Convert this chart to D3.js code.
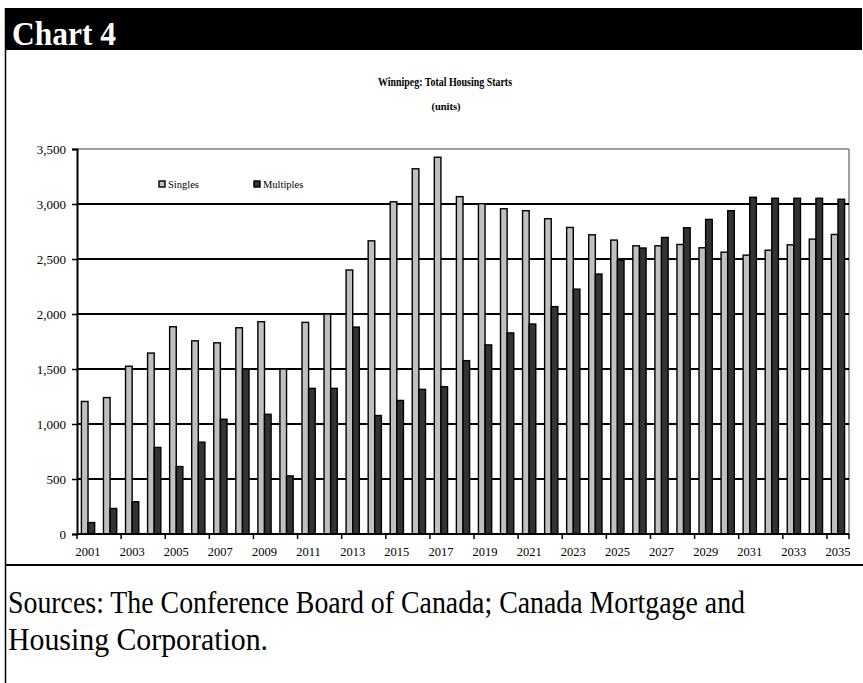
<!DOCTYPE html>
<html>
<head>
<meta charset="utf-8">
<script src="https://cdn.jsdelivr.net/npm/d3@7"></script>
<style>
  html, body { margin: 0; padding: 0; background: #fff; }
  svg { display: block; }
  text { font-family: "Liberation Serif", "Times New Roman", serif; }
</style>
</head>
<body>
<svg id="chart" width="863" height="683"></svg>
<script>
const years = d3.range(2001, 2036).map(String);
const singles = [1205, 1240, 1525, 1645, 1884, 1756, 1738, 1875, 1930, 1500,
                 1924, 2000, 2400, 2665, 3020, 3320, 3425, 3067, 3003, 2957,
                 2939, 2866, 2787, 2720, 2672, 2620, 2620, 2632, 2602, 2562,
                 2535, 2580, 2629, 2681, 2723];
const multiples = [104, 232, 293, 787, 613, 835, 1043, 1500, 1088, 528,
                   1324, 1324, 1881, 1077, 1214, 1315, 1339, 1576, 1719, 1828,
                   1909, 2067, 2226, 2363, 2488, 2600, 2696, 2784, 2860, 2939,
                   3061, 3052, 3052, 3052, 3043];
const seriesNames = ["Singles", "Multiples"];
const seriesColors = ["#c0c0c0", "#333333"];
const yTicks = [0, 500, 1000, 1500, 2000, 2500, 3000, 3500];
const xLabelYears = years.filter((d, i) => i % 2 === 0);
const chartLabel = "Chart 4";
const title = "Winnipeg: Total Housing Starts";
const subtitle = "(units)";
const sourceLines = ["Sources: The Conference Board of Canada; Canada Mortgage and",
                     "Housing Corporation."];

const svg = d3.select("#chart");

// header band
svg.append("rect").attr("x", 5).attr("y", 8).attr("width", 857).attr("height", 42).attr("fill", "#000");
svg.append("text").attr("x", 12).attr("y", 45).attr("fill", "#fff")
  .attr("font-size", 34).attr("font-weight", "bold")
  .attr("textLength", 104).attr("lengthAdjust", "spacingAndGlyphs").text(chartLabel);
// left border
svg.append("line").attr("x1", 5.5).attr("x2", 5.5).attr("y1", 8).attr("y2", 683)
  .attr("stroke", "#000").attr("stroke-width", 1.5);
// separator
svg.append("line").attr("x1", 5).attr("x2", 863).attr("y1", 565).attr("y2", 565)
  .attr("stroke", "#000").attr("stroke-width", 2);

// titles
svg.append("text").attr("x", 445).attr("y", 86).attr("text-anchor", "middle")
  .attr("font-size", 11.5).attr("font-weight", "bold")
  .attr("textLength", 134).attr("lengthAdjust", "spacingAndGlyphs").text(title);
svg.append("text").attr("x", 446).attr("y", 110).attr("text-anchor", "middle")
  .attr("font-size", 10.5).attr("font-weight", "bold").text(subtitle);

const L = 77, R = 849, T = 149, B = 534;
const y = d3.scaleLinear().domain([0, 3500]).range([B, T]);
const xCat = d3.scaleBand().domain(years).range([L, R]).padding(0);
const x0 = d3.scaleBand().domain(years).range([L, R]).paddingInner(0.4).paddingOuter(0.2);
const x1 = d3.scaleBand().domain(seriesNames).range([0, x0.bandwidth()]);

// plot frame (gray top/right)
svg.append("line").attr("x1", L).attr("x2", R).attr("y1", T).attr("y2", T)
  .attr("stroke", "#808080").attr("stroke-width", 1.5);
svg.append("line").attr("x1", R).attr("x2", R).attr("y1", T).attr("y2", B)
  .attr("stroke", "#808080").attr("stroke-width", 1.5);

// gridlines
svg.append("g").selectAll("line").data(yTicks.filter(d => d > 0 && d < 3500)).join("line")
  .attr("x1", L).attr("x2", R).attr("y1", d => y(d)).attr("y2", d => y(d))
  .attr("stroke", "#000").attr("stroke-width", 1.8);

// y axis
const yAxis = d3.axisLeft(y).tickValues(yTicks).tickSize(5).tickPadding(6)
  .tickFormat(d3.format(","));
const gy = svg.append("g").attr("transform", `translate(${L},0)`).call(yAxis);
gy.select(".domain").attr("stroke", "#000").attr("stroke-width", 2);
gy.selectAll(".tick line").attr("stroke", "#000").attr("stroke-width", 1.5);
gy.selectAll(".tick text").attr("font-family", "Liberation Serif, serif")
  .attr("font-size", 13).attr("fill", "#000");

// bars
const data = years.map((yr, i) => ({ yr, vals: [singles[i], multiples[i]] }));
const groups = svg.append("g").selectAll("g").data(data).join("g")
  .attr("transform", d => `translate(${x0(d.yr)},0)`);
groups.selectAll("rect").data(d => d.vals.map((v, k) => ({ v, k }))).join("rect")
  .attr("x", d => x1(seriesNames[d.k]))
  .attr("y", d => y(d.v))
  .attr("width", x1.bandwidth())
  .attr("height", d => B - y(d.v))
  .attr("fill", d => seriesColors[d.k])
  .attr("stroke", "#000").attr("stroke-width", 1.4);

// x axis
svg.append("line").attr("x1", L).attr("x2", R).attr("y1", B).attr("y2", B)
  .attr("stroke", "#000").attr("stroke-width", 2);
const boundaries = years.filter((d, i) => i % 2 === 0).map(d => xCat(d)).concat([R]);
svg.append("g").selectAll("line").data(boundaries).join("line")
  .attr("x1", d => d).attr("x2", d => d).attr("y1", B).attr("y2", B + 5)
  .attr("stroke", "#000").attr("stroke-width", 1.5);
svg.append("g").selectAll("text").data(xLabelYears).join("text")
  .attr("x", d => xCat(d) + xCat.bandwidth() / 2).attr("y", 556)
  .attr("text-anchor", "middle").attr("font-size", 12.5).text(d => d);

// legend
const legendPos = [{ x: 159, tx: 168 }, { x: 254, tx: 263 }];
seriesNames.forEach((name, k) => {
  svg.append("rect").attr("x", legendPos[k].x).attr("y", 181).attr("width", 6).attr("height", 6)
    .attr("fill", seriesColors[k]).attr("stroke", "#000").attr("stroke-width", 1.4);
  svg.append("text").attr("x", legendPos[k].tx).attr("y", 188)
    .attr("font-size", 10.5).text(name);
});

// sources
const sourceLens = [737, 260];
sourceLines.forEach((s, i) => {
  svg.append("text").attr("x", 8).attr("y", 613 + i * 37).attr("font-size", 31)
    .attr("textLength", sourceLens[i]).attr("lengthAdjust", "spacingAndGlyphs").text(s);
});
</script>
</body>
</html>
